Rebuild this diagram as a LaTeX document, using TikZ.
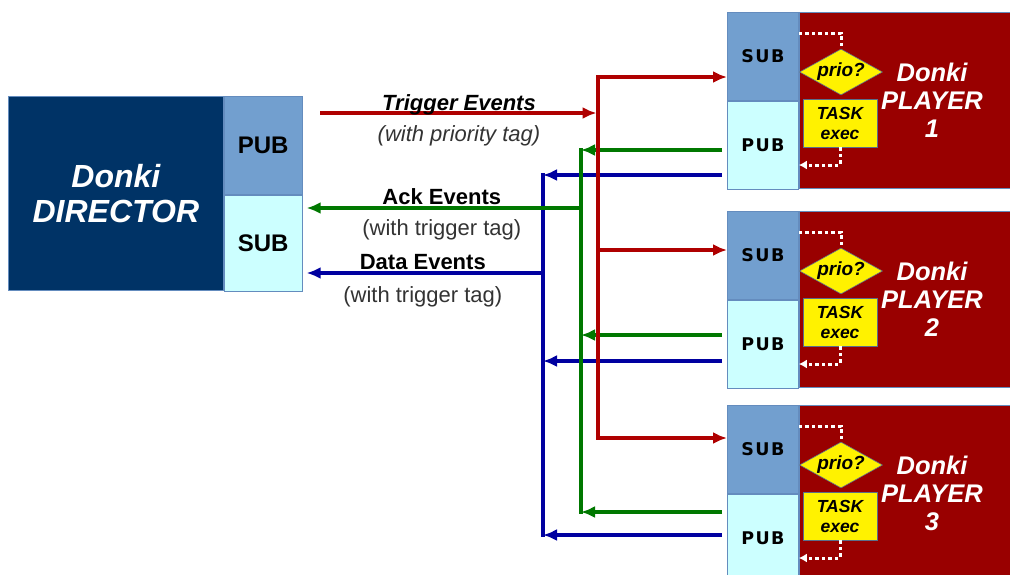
\documentclass[tikz,border=0pt]{standalone}
\usepackage{fontspec}
\setmainfont{Liberation Sans}
\newfontfamily\verdfont[LetterSpace=8]{DejaVu Sans}
\usetikzlibrary{arrows.meta, shapes.geometric, positioning}
\definecolor{DirBlue}{RGB}{0,51,102}
\definecolor{PubBlue}{RGB}{114,159,207}
\definecolor{SubCyan}{RGB}{204,255,255}
\definecolor{PlayRed}{RGB}{153,0,0}
\definecolor{EdgeBlue}{RGB}{100,140,190}
\definecolor{ArrRed}{RGB}{175,0,0}
\definecolor{ArrGreen}{RGB}{0,120,0}
\definecolor{ArrBlue}{RGB}{0,0,160}
\definecolor{Slate}{RGB}{90,110,140}
\tikzset{>={Latex[length=14pt,width=12pt]}}

\begin{document}
\begin{tikzpicture}[x=1pt,y=-1pt,
  dirbox/.style={fill=DirBlue, draw=EdgeBlue, line width=0.8pt, minimum width=215pt, minimum height=194pt,
    text=white, align=center, font=\fontsize{32}{35}\selectfont\bfseries\itshape},
  dircell/.style={draw=EdgeBlue, line width=0.8pt, minimum width=78pt, font=\fontsize{24}{28}\selectfont\bfseries},
  plcell/.style={draw=EdgeBlue, line width=0.8pt, minimum width=71pt, minimum height=88pt,
    font=\fontsize{17.5}{20}\verdfont\bfseries},
  plbody/.style={fill=PlayRed, draw=EdgeBlue, line width=0.8pt, minimum width=214pt, minimum height=176pt},
  pltext/.style={text=white, align=center, font=\fontsize{25.5}{28}\selectfont\bfseries\itshape},
  prio/.style={diamond, aspect=2, fill=yellow, draw=Slate, line width=0.6pt, minimum width=79pt,
    minimum height=46pt, inner sep=0pt, font=\fontsize{19}{22}\selectfont\bfseries\itshape},
  taskbox/.style={fill=yellow, draw=Slate, line width=0.6pt, minimum width=74pt, minimum height=48pt,
    inner sep=0pt, align=center, font=\fontsize{17.5}{20}\selectfont\bfseries\itshape},
  dotw/.style={white, line width=3pt, dash pattern=on 3.5pt off 3pt},
  redarr/.style={ArrRed, line width=3.2pt},
  grnarr/.style={ArrGreen, line width=3.2pt},
  bluarr/.style={ArrBlue, line width=3.2pt},
  labbi/.style={inner sep=0pt, text=black, font=\fontsize{22}{26}\selectfont\bfseries\itshape},
  labi/.style={inner sep=0pt, text=black!80, font=\fontsize{22}{26}\selectfont\itshape},
  labb/.style={inner sep=0pt, text=black, font=\fontsize{22}{26}\selectfont\bfseries},
  lab/.style={inner sep=0pt, text=black!80, font=\fontsize{22}{26}\selectfont}]
\useasboundingbox (0,0) rectangle (1010,574);
\clip (0,0) rectangle (1010,574);

% director
\node[dirbox, anchor=north west] (dir) at (8,96) {Donki\\DIRECTOR};
\node[dircell, fill=PubBlue, minimum height=98pt, anchor=north west] (dirpub) at (dir.north east) {PUB};
\node[dircell, fill=SubCyan, minimum height=96pt, anchor=north] (dirsub) at (dirpub.south) {SUB};

% players
\foreach \t/\r/\g/\b/\n in {12/77/150/175/1, 211/250/335/361/2, 405/438/512/535/3} {
  \node[plcell, fill=PubBlue, anchor=north west] (sub\n) at (727,\t) {SUB};
  \node[plcell, fill=SubCyan, anchor=north] (pub\n) at (sub\n.south) {PUB};
  \node[plbody, anchor=north west] (body\n) at (sub\n.north east) {};
  \node[pltext] (name\n) at (932,\t+88) {Donki\\PLAYER\\\n};
  \node[prio] (prio\n) at (841,\t+60) {prio?};
  \node[taskbox] (task\n) at (840,\t+111) {TASK\\exec};
  \draw[dotw] ([yshift=-21pt]body\n.north west) -| (prio\n.north);
  \draw[dotw,-{Latex[length=8pt,width=9pt]}] (task\n.south) |- ([yshift=-153pt]body\n.north west);
  \coordinate (rb\n) at (598,\r);
  \coordinate (gb\n) at (581,\g);
  \coordinate (bb\n) at (543,\b);
  \draw[redarr,->] (rb\n) -- (sub\n.west |- rb\n);
  \draw[grnarr,->,shorten <=5pt] (pub\n.west |- gb\n) -- (gb\n);
  \draw[bluarr,->,shorten <=5pt] (pub\n.west |- bb\n) -- (bb\n);
}

% buses
\draw[redarr, line cap=rect] (rb1) -- (rb3);
\draw[grnarr, line cap=rect] (gb1) -- (gb3);
\draw[bluarr, line cap=rect] (bb1) -- (bb3);

% director links
\coordinate (trigin) at (320,113);
\coordinate (trig) at (598,113);
\draw[redarr,->,shorten >=1.5pt] (trigin) -- (trig)
  node[midway, above=-4pt, labbi] {Trigger Events}
  node[midway, below=11pt, labi] {(with priority tag)};
\coordinate (ack) at (581,208);
\draw[grnarr,->,shorten >=4pt] (ack) -- (dirsub.east |- ack)
  node[midway, above=2pt, labb] {Ack Events}
  node[midway, below=10pt, lab] {(with trigger tag)};
\coordinate (dat) at (543,273);
\draw[bluarr,->,shorten >=4pt] (dat) -- (dirsub.east |- dat)
  node[midway, above=2pt, labb] {Data Events}
  node[midway, below=12pt, lab] {(with trigger tag)};
\end{tikzpicture}
\end{document}
